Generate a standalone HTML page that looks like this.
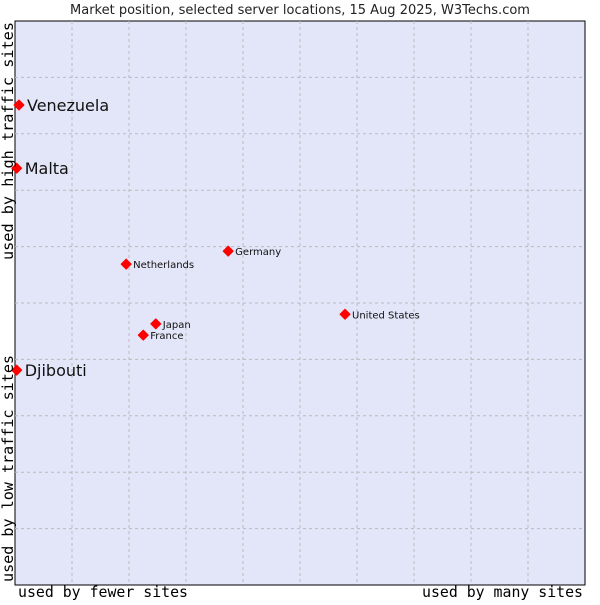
<!DOCTYPE html>
<html><head><meta charset="utf-8"><style>
body{margin:0;background:#fff;}
svg text{font-family:"DejaVu Sans","Liberation Sans",sans-serif;}
.mono{font-family:"DejaVu Sans Mono","Liberation Mono",monospace;}
</style></head><body>
<svg id="c" width="600" height="600" xmlns="http://www.w3.org/2000/svg">
<text x="300" y="14" text-anchor="middle" font-size="13" fill="#222">Market position, selected server locations, 15 Aug 2025, W3Techs.com</text>
<rect x="15" y="21" width="570" height="564" fill="#e3e5f8" stroke="#000" stroke-width="1"/>
<g id="grid"></g>
<g id="pts"></g>
<text class="mono" x="18" y="597" font-size="15" textLength="170" lengthAdjust="spacingAndGlyphs">used by fewer sites</text>
<text class="mono" x="422" y="597" font-size="15" textLength="161" lengthAdjust="spacingAndGlyphs">used by many sites</text>
<text class="mono" transform="translate(13,582) rotate(-90)" font-size="15" textLength="227" lengthAdjust="spacingAndGlyphs">used by low traffic sites</text>
<text class="mono" transform="translate(13,260) rotate(-90)" font-size="15" textLength="238" lengthAdjust="spacingAndGlyphs">used by high traffic sites</text>
</svg>
<script>
const names=["Venezuela","Malta","Djibouti","Netherlands","Germany","United States","Japan","France"];
const xVals=[0.07,0.03,0.03,1.95,3.74,5.79,2.47,2.25];
const yVals=[8.51,7.39,3.81,5.69,5.92,4.80,4.63,4.43];
const big=[true,true,true,false,false,false,false,false];
const X0=15,X1=585,Y0=585,Y1=21;
const sx=v=>X0+v/10*(X1-X0), sy=v=>Y0-v/10*(Y0-Y1);
const NS="http://www.w3.org/2000/svg";
const grid=document.getElementById('grid'), pts=document.getElementById('pts');
for(let i=1;i<10;i++){
 let l=document.createElementNS(NS,'line');
 l.setAttribute('x1',sx(i));l.setAttribute('x2',sx(i));l.setAttribute('y1',Y1);l.setAttribute('y2',Y0);
 l.setAttribute('stroke','#bbb');l.setAttribute('stroke-dasharray','3,3');
 
 
 grid.appendChild(l);
 let h=document.createElementNS(NS,'line');
 h.setAttribute('x1',X0);h.setAttribute('x2',X1);h.setAttribute('y1',sy(i));h.setAttribute('y2',sy(i));
 h.setAttribute('stroke','#bbb');h.setAttribute('stroke-dasharray','3,3');
 
 
 grid.appendChild(h);
}
names.forEach((n,i)=>{
 const x=sx(xVals[i]),y=sy(yVals[i]);
 let d=document.createElementNS(NS,'path');
 d.setAttribute('d',`M${x-5},${y}L${x},${y-5}L${x+5},${y}L${x},${y+5}Z`);
 d.setAttribute('fill','#f00');
 d.setAttribute('stroke','#f00');
 d.setAttribute('stroke-linejoin','round');
 
 
 pts.appendChild(d);
 let t=document.createElementNS(NS,'text');
 t.setAttribute('x',x+(big[i]?8:7));t.setAttribute('y',y+(big[i]?6:4));
 t.setAttribute('font-size',big[i]?16:10);t.setAttribute('fill','#111');
 t.textContent=n;
 
 
 pts.appendChild(t);
});
</script>
</body></html>
